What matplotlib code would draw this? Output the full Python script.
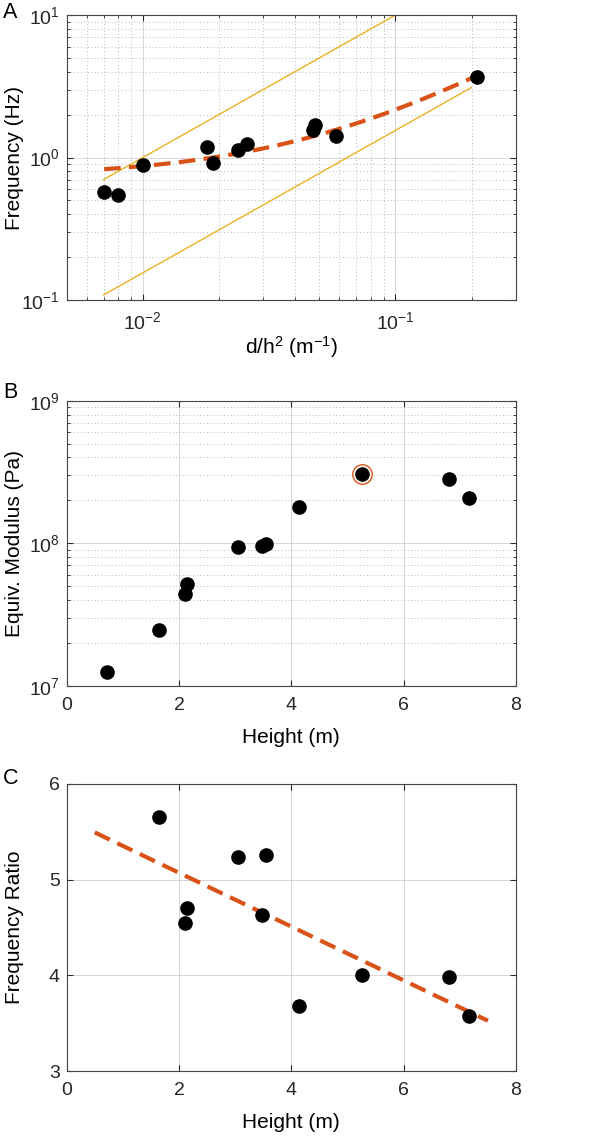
import matplotlib.pyplot as plt
import numpy as np
from matplotlib.ticker import NullFormatter, MultipleLocator

plt.rcParams['font.family'] = ['Liberation Sans', 'DejaVu Sans']
plt.rcParams['mathtext.default'] = 'regular'

# panel A: first-mode frequency vs d/h^2
d_h2 = [0.00703, 0.00801, 0.0100, 0.0180, 0.0190, 0.0239, 0.0259, 0.0472, 0.0481, 0.0580, 0.211]
freq = [0.574, 0.544, 0.893, 1.19, 0.92, 1.126, 1.24, 1.56, 1.69, 1.42, 3.69]
bound_coef = [100, 15.5]      # f = c * d/h^2
bound_x = [0.007, 0.2]

# panel B: equivalent modulus vs height
height = [0.72, 1.65, 2.10, 2.14, 3.05, 3.48, 3.54, 4.14, 5.26, 6.81, 7.17]
modulus = [1.25e7, 2.46e7, 4.40e7, 5.14e7, 9.42e7, 9.53e7, 9.95e7, 1.79e8, 3.08e8, 2.81e8, 2.07e8]
circled = 8

# panel C: frequency ratio vs height
ratio_height = height[1:]
ratio = [5.66, 4.55, 4.70, 5.24, 4.63, 5.26, 3.68, 4.00, 3.98, 3.58]
fit_range = [0.5, 7.5]

ORANGE = '#D95319'
YELLOW = '#EDB120'
W, H = 612, 1138
LABEL_FS = 15


def style(ax):
    for s in ax.spines.values():
        s.set_color('#454545')
        s.set_linewidth(0.8)
    ax.tick_params(which='both', direction='in', top=True, right=True,
                   labelsize=14, colors='#262626')
    ax.tick_params(which='major', length=4)
    ax.tick_params(which='minor', length=2.5)
    ax.tick_params(axis='x', pad=8)
    ax.tick_params(axis='y', pad=5)
    ax.set_axisbelow(True)


def major_grid(ax, axis='both'):
    ax.grid(True, which='major', axis=axis, color='#d6d6d6', lw=0.7, ls='-')


def minor_grid(ax, axis='both'):
    ax.grid(True, which='minor', axis=axis, color='#b8b8b8', lw=0.7, ls=(0, (1, 2.5)))


def make_axes(top, bottom):
    return fig.add_axes([66.7 / W, 1 - bottom / H, (516 - 66.7) / W, (bottom - top) / H])


fig = plt.figure(figsize=(6.12, 11.38), dpi=100)

# ---- A
ax = make_axes(15, 300)
style(ax)
ax.set_xscale('log')
ax.set_yscale('log')
ax.set_xlim(0.005, 0.3)
ax.set_ylim(0.1, 10)
major_grid(ax)
minor_grid(ax)
bx = np.array(bound_x)
for c in bound_coef:
    ax.plot(bx, c * bx, color=YELLOW, lw=1.0)
p = np.polyfit(d_h2, freq, 1)
xf = np.linspace(min(d_h2), max(d_h2), 200)
ax.plot(xf, np.polyval(p, xf), color=ORANGE, lw=3, ls=(0, (4, 2)))
ax.plot(d_h2, freq, 'o', color='black', ms=9.5)
ax.xaxis.set_minor_formatter(NullFormatter())
ax.yaxis.set_minor_formatter(NullFormatter())
ax.set_xlabel('d/h$^2$ (m$^{-1}$)', fontsize=LABEL_FS)
ax.set_ylabel('Frequency (Hz)', fontsize=LABEL_FS)
ax.xaxis.set_label_coords(0.5, -0.12)
ax.yaxis.set_label_coords(-0.096, 0.5)

# ---- B
ax = make_axes(400.7, 685.7)
style(ax)
ax.set_yscale('log')
ax.set_xlim(0, 8)
ax.set_ylim(1e7, 1e9)
ax.xaxis.set_major_locator(MultipleLocator(2))
major_grid(ax)
minor_grid(ax, 'y')
ax.yaxis.set_minor_formatter(NullFormatter())
ax.plot(height, modulus, 'o', color='black', ms=9.5)
ax.plot(height[circled], modulus[circled], 'o', mfc='none', mec=ORANGE, ms=14, mew=1.0)
ax.set_xlabel('Height (m)', fontsize=LABEL_FS)
ax.set_ylabel('Equiv. Modulus (Pa)', fontsize=LABEL_FS)
ax.xaxis.set_label_coords(0.5, -0.148)
ax.yaxis.set_label_coords(-0.096, 0.5)

# ---- C
ax = make_axes(784, 1071)
style(ax)
ax.set_xlim(0, 8)
ax.set_ylim(3, 6)
ax.xaxis.set_major_locator(MultipleLocator(2))
ax.yaxis.set_major_locator(MultipleLocator(1))
major_grid(ax)
k = np.polyfit(ratio_height, ratio, 1)
xr = np.array(fit_range)
ax.plot(xr, np.polyval(k, xr), color=ORANGE, lw=3, ls=(0, (4, 2)))
ax.plot(ratio_height, ratio, 'o', color='black', ms=9.5)
ax.set_xlabel('Height (m)', fontsize=LABEL_FS)
ax.set_ylabel('Frequency Ratio', fontsize=LABEL_FS)
ax.xaxis.set_label_coords(0.5, -0.145)
ax.yaxis.set_label_coords(-0.096, 0.5)

for letter, y in [('A', 13), ('B', 393), ('C', 779)]:
    fig.text(3 / W, 1 - y / H, letter, fontsize=15.5, va='center', ha='left')

fig.savefig('out.png', dpi=100)
